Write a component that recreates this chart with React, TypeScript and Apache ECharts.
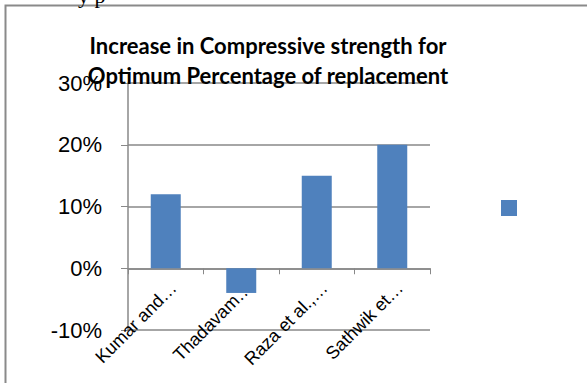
import React, { useEffect, useRef } from "react";
import * as echarts from "echarts";

const categories = ["Kumar and…", "Thadavam…", "Raza et al.,…", "Sathwik et…"];
const increasePct = [12, -4, 15, 20];
const yTicks = { min: -10, max: 30, interval: 10 };
const titleLines = ["Increase in Compressive strength for", "Optimum Percentage of replacement"];

export default function App() {
  const ref = useRef<HTMLDivElement>(null);

  useEffect(() => {
    document.body.style.margin = "0";
    const chart = echarts.init(ref.current!, null, { renderer: "svg" });
    const axisGray = "#888888";
    const gridTop = 83;
    const gridHeight = 247;
    // distance from the bottom of the grid up to the 0% line
    const zeroLift = (gridHeight * (0 - yTicks.min)) / (yTicks.max - yTicks.min);
    chart.setOption({
      animation: false,
      backgroundColor: "#ffffff",
      title: {
        text: titleLines.join("\n"),
        left: 263,
        top: 25,
        textAlign: "center",
        textStyle: {
          fontFamily: "Lato",
          fontWeight: "bold",
          fontSize: 22,
          lineHeight: 30,
          color: "#000000",
        },
      },
      legend: {
        left: 496,
        top: 195,
        itemWidth: 16,
        itemHeight: 16,
        icon: "rect",
        data: [" "],
        textStyle: { fontSize: 12 },
      },
      grid: {
        left: 128,
        top: gridTop,
        width: 302,
        height: gridHeight,
        containLabel: false,
        outerBoundsMode: "none",
      },
      xAxis: {
        type: "category",
        data: categories,
        offset: -zeroLift,
        axisLine: { onZero: false, lineStyle: { color: axisGray, width: 1.5 } },
        axisTick: { show: true, alignWithLabel: false, length: 6, lineStyle: { color: axisGray } },
        axisLabel: {
          rotate: 45,
          interval: 0,
          margin: 9,
          verticalAlign: "top",
          lineHeight: 22,
          fontFamily: "Liberation Sans",
          fontSize: 18,
          color: "#000000",
        },
        splitLine: { show: false },
      },
      yAxis: {
        type: "value",
        min: yTicks.min,
        max: yTicks.max,
        interval: yTicks.interval,
        axisLine: { show: true, lineStyle: { color: axisGray, width: 1.5 } },
        axisTick: { show: true, length: 7, lineStyle: { color: axisGray } },
        axisLabel: {
          formatter: "{value}%",
          margin: 26,
          fontFamily: "Liberation Sans",
          fontSize: 22,
          color: "#000000",
        },
        splitLine: { show: true, lineStyle: { color: axisGray, width: 1.5 } },
      },
      series: [
        {
          name: " ",
          type: "bar",
          data: increasePct,
          barWidth: 30,
          itemStyle: { color: "#4f81bd" },
        },
      ],
      graphic: [
        {
          type: "rect",
          shape: { x: 5.5, y: 5.5, width: 600, height: 400 },
          style: { fill: "none", stroke: "#8a8a8a", lineWidth: 2 },
          silent: true,
        },
        {
          type: "text",
          x: 78,
          y: -16,
          style: { text: "y p", font: "22px 'Liberation Serif'", fill: "#000000" },
          silent: true,
        },
      ],
    });
    return () => chart.dispose();
  }, []);

  return <div ref={ref} style={{ width: 587, height: 383, position: "absolute", left: 0, top: 0 }} />;
}
